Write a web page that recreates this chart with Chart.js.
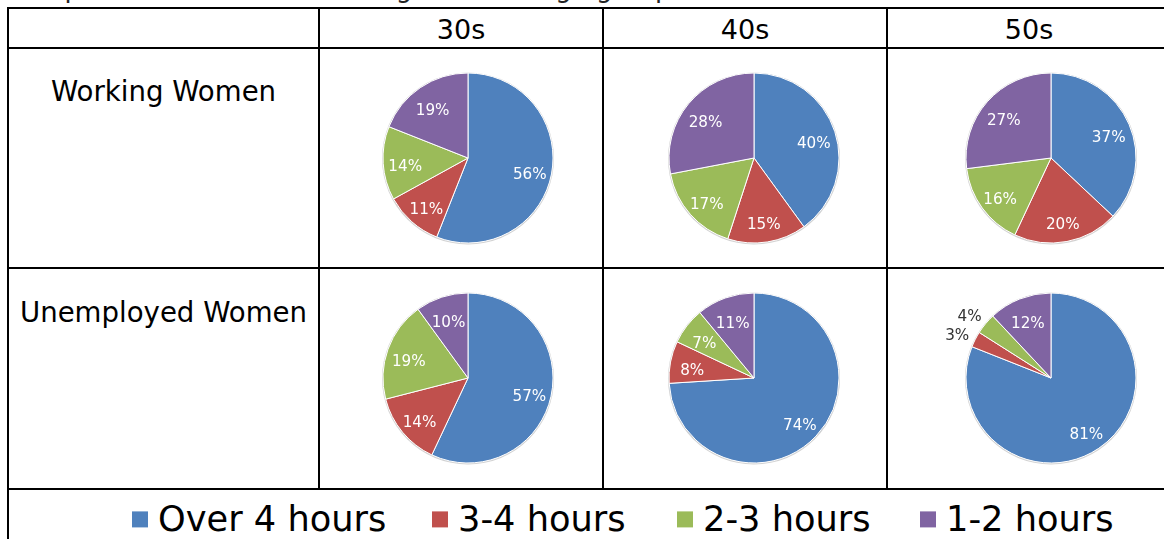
<!DOCTYPE html>
<html>
<head>
<meta charset="utf-8">
<script src="https://cdn.jsdelivr.net/npm/chart.js@4.4.1/dist/chart.umd.min.js"></script>
<style>
  html, body { margin: 0; padding: 0; background: #fff; }
  body { width: 1164px; height: 539px; position: relative; overflow: hidden;
         font-family: "DejaVu Sans", Verdana, sans-serif; color: #000; }
  .hl { position: absolute; height: 2px; background: #000; }
  .vl { position: absolute; width: 2px; background: #000; }
  .txt { position: absolute; white-space: nowrap; transform: translate(-50%, -50%); line-height: 1; }
  .head { font-size: 27px; }
  .rowhead { font-size: 27.6px; }
  .pie { position: absolute; }
  #title { position: absolute; right: 479px; top: -27px; text-align: right;
           font-size: 26px; color: #222; white-space: nowrap; }
  #legend { position: absolute; left: 0; top: 519px; width: 1164px; height: 0; font-size: 35.2px; line-height: 1; }
  #legend .item { position: absolute; top: 0; display: flex; align-items: center; transform: translateY(-50%); }
  #legend .sw { width: 16px; height: 16px; margin-right: 10px; }
</style>
</head>
<body>
<div id="title">Time spent on housework among different age groups</div>
<div id="grid"></div>
<div id="legend"></div>
<script>
// Slice categories and colours
const categories = ['Over 4 hours', '3-4 hours', '2-3 hours', '1-2 hours'];
const sliceColors = ['#4F81BD', '#C0504D', '#9BBB59', '#8064A2'];

// Column and row headings
const ageGroups = ['30s', '40s', '50s'];
const womenGroups = ['Working Women', 'Unemployed Women'];

// Share of women (%) per category
const working30s = [56, 11, 14, 19];
const working40s = [40, 15, 17, 28];
const working50s = [37, 20, 16, 27];
const unemployed30s = [57, 14, 19, 10];
const unemployed40s = [74, 8, 7, 11];
const unemployed50s = [81, 3, 4, 12];

const pieRows = [
  [working30s, working40s, working50s],
  [unemployed30s, unemployed40s, unemployed50s]
];

// Table geometry
const colLines = [7, 318, 602, 886];
const rowLines = [7, 47, 267, 488];
const pieCentersX = [468, 754, 1051];
const pieCentersY = [158, 377.5];
const rowLabelY = [92, 313];
const legendX = [132, 432, 677, 920];
const PIE_R = 85;

const grid = document.getElementById('grid');
function addLine(cls, left, top, len) {
  const d = document.createElement('div');
  d.className = cls;
  d.style.left = left + 'px';
  d.style.top = top + 'px';
  if (cls === 'hl') d.style.width = len + 'px'; else d.style.height = len + 'px';
  grid.appendChild(d);
}
rowLines.forEach(y => addLine('hl', 7, y, 1164 - 7));
addLine('vl', 7, 7, 539 - 7);
colLines.slice(1).forEach(x => addLine('vl', x, 7, 488 - 7 + 2));

function addText(text, cx, cy, cls) {
  const d = document.createElement('div');
  d.className = 'txt ' + cls;
  d.textContent = text;
  d.style.left = cx + 'px';
  d.style.top = cy + 'px';
  grid.appendChild(d);
}
ageGroups.forEach((g, i) => {
  const right = i < 2 ? colLines[i + 2] : 1170;
  addText(g, (colLines[i + 1] + 2 + right) / 2, 29, 'head');
});
womenGroups.forEach((g, i) => addText(g, 163.5, rowLabelY[i], 'rowhead'));

// Legend
const legend = document.getElementById('legend');
categories.forEach((c, i) => {
  const item = document.createElement('div');
  item.className = 'item';
  item.style.left = legendX[i] + 'px';
  const sw = document.createElement('span');
  sw.className = 'sw';
  sw.style.background = sliceColors[i];
  const t = document.createElement('span');
  t.textContent = c;
  item.appendChild(sw);
  item.appendChild(t);
  legend.appendChild(item);
});

// Percentage labels: inside in white, small slices outside in dark grey
const sliceLabels = {
  id: 'sliceLabels',
  afterDatasetsDraw(chart) {
    const ctx = chart.ctx;
    const meta = chart.getDatasetMeta(0);
    const values = chart.data.datasets[0].data;
    ctx.save();
    ctx.font = '15.2px "DejaVu Sans", Verdana, sans-serif';
    ctx.textAlign = 'center';
    ctx.textBaseline = 'middle';
    meta.data.forEach((arc, i) => {
      const p = arc.getProps(['x', 'y', 'startAngle', 'endAngle', 'outerRadius'], true);
      const mid = (p.startAngle + p.endAngle) / 2;
      const outside = values[i] < 5;
      const dist = outside ? p.outerRadius + 18 : p.outerRadius * 0.74;
      ctx.fillStyle = outside ? '#333333' : '#ffffff';
      ctx.fillText(values[i] + '%', p.x + Math.cos(mid) * dist - (outside ? 2 : 0),
                   p.y + Math.sin(mid) * dist + 5);
    });
    ctx.restore();
  }
};

// Soft grey rim around each pie
const pieRim = {
  id: 'pieRim',
  beforeDatasetsDraw(chart) {
    const arc = chart.getDatasetMeta(0).data[0];
    if (!arc) return;
    const p = arc.getProps(['x', 'y', 'outerRadius'], true);
    const ctx = chart.ctx;
    ctx.save();
    ctx.beginPath();
    ctx.arc(p.x, p.y + 0.5, p.outerRadius + 1, 0, Math.PI * 2);
    ctx.fillStyle = 'rgba(0,0,0,0.18)';
    ctx.fill();
    ctx.restore();
  }
};

const CW = 280, CH = 210;
const padX = (CW - (2 * PIE_R + 1)) / 2;
const padY = (CH - (2 * PIE_R + 1)) / 2;

pieRows.forEach((row, r) => {
  row.forEach((values, c) => {
    const wrap = document.createElement('div');
    wrap.className = 'pie';
    wrap.style.left = (pieCentersX[c] - CW / 2) + 'px';
    wrap.style.top = (pieCentersY[r] - CH / 2) + 'px';
    wrap.style.width = CW + 'px';
    wrap.style.height = CH + 'px';
    const cv = document.createElement('canvas');
    wrap.appendChild(cv);
    document.body.appendChild(wrap);
    new Chart(cv, {
      type: 'pie',
      data: {
        labels: categories,
        datasets: [{
          data: values,
          backgroundColor: sliceColors,
          borderColor: '#ffffff',
          borderWidth: 1
        }]
      },
      options: {
        responsive: true,
        maintainAspectRatio: false,
        animation: false,
        layout: { padding: { left: padX, right: padX, top: padY, bottom: padY } },
        plugins: { legend: { display: false }, tooltip: { enabled: false } }
      },
      plugins: [pieRim, sliceLabels]
    });
  });
});
</script>
</body>
</html>
